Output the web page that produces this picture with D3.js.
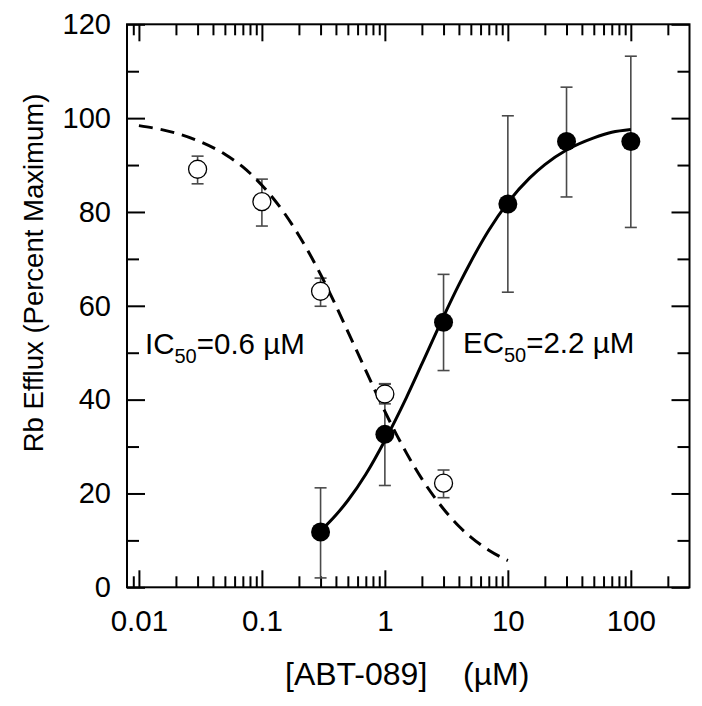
<!DOCTYPE html>
<html>
<head>
<meta charset="utf-8">
<script src="https://cdn.jsdelivr.net/npm/d3@7"></script>
<style>
  html, body { margin: 0; padding: 0; background: #fff; }
  svg { display: block; font-family: "Liberation Sans", Arial, Helvetica, sans-serif; }
</style>
</head>
<body>
<svg id="chart" width="702" height="706"></svg>
<script>
// ---- data ----
const openX    = [0.03, 0.1, 0.3, 1, 3];
const openY    = [89.1, 82.2, 63.1, 41.2, 22.2];
const openLo   = [86.0, 77.0, 59.9, 39.1, 19.1];
const openHi   = [91.9, 87.0, 65.9, 43.3, 25.0];

const filledX  = [0.3, 1, 3, 10, 30, 100];
const filledY  = [11.8, 32.6, 56.5, 81.7, 95.0, 95.0];
const filledLo = [2.0, 21.7, 46.2, 62.9, 83.2, 76.7];
const filledHi = [21.2, 43.4, 66.7, 100.5, 106.6, 113.2];

// fitted curves
const icCurveX = [0.01, 0.015, 0.02, 0.03, 0.05, 0.07, 0.1, 0.15, 0.2, 0.3, 0.4, 0.5, 0.6, 0.8, 1, 1.5, 2, 3, 4, 5, 7, 10];
const icCurveY = [98.4, 97.6, 96.8, 95.2, 92.3, 89.6, 85.7, 80.0, 75.0, 66.7, 60.0, 54.5, 50.0, 42.9, 37.5, 28.6, 23.1, 16.7, 13.0, 10.7, 7.9, 5.7];
const ecCurveX = [0.3, 0.4, 0.5, 0.7, 1, 1.5, 2, 3, 4, 5, 7, 10, 15, 20, 30, 50, 70, 100];
const ecCurveY = [12.0, 15.4, 18.5, 24.1, 31.3, 40.5, 47.6, 57.7, 64.5, 69.4, 76.1, 82.0, 87.2, 90.1, 93.2, 95.8, 97.0, 97.6];

const xMajorTicks = [0.01, 0.1, 1, 10, 100];
const xTickLabels = ["0.01", "0.1", "1", "10", "100"];
const xMinorTicks = [0.009, 0.02, 0.03, 0.04, 0.05, 0.06, 0.07, 0.08, 0.09,
                     0.2, 0.3, 0.4, 0.5, 0.6, 0.7, 0.8, 0.9,
                     2, 3, 4, 5, 6, 7, 8, 9,
                     20, 30, 40, 50, 60, 70, 80, 90, 200];
const yMajorTicks = [0, 20, 40, 60, 80, 100, 120];
const yMinorTicks = [10, 30, 50, 70, 90, 110];

// ---- layout ----
const L = 127, R = 689.5, T = 24.3, B = 587.3;
const svg = d3.select("#chart");
const x = d3.scaleLog().domain([0.008, 300]).range([L, R]);
const y = d3.scaleLinear().domain([0, 120]).range([B, T]);

const axisColor = "#000";
const FONT = "Liberation Sans, Arial, sans-serif";

// axes with D3 axis generators (inward ticks)
const tickLen = 17, minorLen = 11;
function styleAxis(g) {
  g.select(".domain").remove();
  g.selectAll(".tick line").attr("stroke", axisColor).attr("stroke-width", 2);
}
// bottom major
svg.append("g").attr("transform", `translate(0,${B})`)
  .call(d3.axisBottom(x).tickValues(xMajorTicks).tickSizeInner(-tickLen).tickSizeOuter(0)
        .tickFormat((d, i) => xTickLabels[i]))
  .call(styleAxis)
  .call(g => g.selectAll("text").attr("font-size", 29.5).attr("fill", "#000")
        .attr("font-family", FONT).attr("dy", null).attr("y", 44));
// bottom minor
svg.append("g").attr("transform", `translate(0,${B})`)
  .call(d3.axisBottom(x).tickValues(xMinorTicks).tickSizeInner(-minorLen).tickSizeOuter(0).tickFormat(""))
  .call(styleAxis);
// top major & minor
svg.append("g").attr("transform", `translate(0,${T})`)
  .call(d3.axisTop(x).tickValues(xMajorTicks).tickSizeInner(-tickLen).tickSizeOuter(0).tickFormat(""))
  .call(styleAxis);
svg.append("g").attr("transform", `translate(0,${T})`)
  .call(d3.axisTop(x).tickValues(xMinorTicks).tickSizeInner(-minorLen).tickSizeOuter(0).tickFormat(""))
  .call(styleAxis);
// left major
svg.append("g").attr("transform", `translate(${L},0)`)
  .call(d3.axisLeft(y).tickValues(yMajorTicks).tickSizeInner(-18).tickSizeOuter(0).tickFormat(d3.format("d")))
  .call(styleAxis)
  .call(g => g.selectAll("text").attr("font-size", 29).attr("fill", "#000")
        .attr("font-family", FONT).attr("x", -16));
svg.append("g").attr("transform", `translate(${L},0)`)
  .call(d3.axisLeft(y).tickValues(yMinorTicks).tickSizeInner(-12).tickSizeOuter(0).tickFormat(""))
  .call(styleAxis);
// right
svg.append("g").attr("transform", `translate(${R},0)`)
  .call(d3.axisRight(y).tickValues(yMajorTicks).tickSizeInner(-18).tickSizeOuter(0).tickFormat(""))
  .call(styleAxis);
svg.append("g").attr("transform", `translate(${R},0)`)
  .call(d3.axisRight(y).tickValues(yMinorTicks).tickSizeInner(-12).tickSizeOuter(0).tickFormat(""))
  .call(styleAxis);

// frame
svg.append("rect").attr("x", L).attr("y", T).attr("width", R - L).attr("height", B - T)
  .attr("fill", "none").attr("stroke", "#000").attr("stroke-width", 2);

// error bars
const capW = 6;
function errorBars(xs, lo, hi) {
  const g = svg.append("g").attr("stroke", "#4a4a4a").attr("stroke-width", 1.6).attr("fill", "none");
  xs.forEach((xv, i) => {
    const cx = x(xv);
    g.append("line").attr("x1", cx).attr("x2", cx).attr("y1", y(lo[i])).attr("y2", y(hi[i]));
    g.append("line").attr("x1", cx - capW).attr("x2", cx + capW).attr("y1", y(lo[i])).attr("y2", y(lo[i]));
    g.append("line").attr("x1", cx - capW).attr("x2", cx + capW).attr("y1", y(hi[i])).attr("y2", y(hi[i]));
  });
}
errorBars(filledX, filledLo, filledHi);
errorBars(openX, openLo, openHi);

// curves
const line = d3.line().x(d => x(d[0])).y(d => y(d[1])).curve(d3.curveMonotoneX);
svg.append("path").datum(icCurveX.map((v, i) => [v, icCurveY[i]]))
  .attr("d", line).attr("fill", "none").attr("stroke", "#000").attr("stroke-width", 3)
  .attr("stroke-dasharray", "14,8");
svg.append("path").datum(ecCurveX.map((v, i) => [v, ecCurveY[i]]))
  .attr("d", line).attr("fill", "none").attr("stroke", "#000").attr("stroke-width", 3);

// points
svg.append("g").selectAll("circle").data(filledX).join("circle")
  .attr("cx", d => x(d)).attr("cy", (d, i) => y(filledY[i])).attr("r", 9.5).attr("fill", "#000");
svg.append("g").selectAll("circle").data(openX).join("circle")
  .attr("cx", d => x(d)).attr("cy", (d, i) => y(openY[i])).attr("r", 9)
  .attr("fill", "#fff").attr("stroke", "#000").attr("stroke-width", 1.3);

// annotations
function annot(xp, yp, main, sub, rest) {
  const t = svg.append("text").attr("x", xp).attr("y", yp).attr("font-size", 29.5).attr("fill", "#000");
  t.append("tspan").text(main);
  t.append("tspan").attr("font-size", 20).attr("dy", 9).text(sub);
  t.append("tspan").attr("dy", -9).text(rest);
}
annot(145, 354, "IC", "50", "=0.6 µM");
annot(463, 353, "EC", "50", "=2.2 µM");

// axis titles
const xt = svg.append("text").attr("y", 685).attr("font-size", 32).attr("fill", "#000");
xt.append("tspan").attr("x", 285).text("[ABT-089]");
xt.append("tspan").attr("x", 463).text("(µM)");

svg.append("text").attr("transform", "translate(43,273) rotate(-90)")
  .attr("text-anchor", "middle").attr("font-size", 27.5).attr("fill", "#000")
  .text("Rb Efflux (Percent Maximum)");
</script>
</body>
</html>
